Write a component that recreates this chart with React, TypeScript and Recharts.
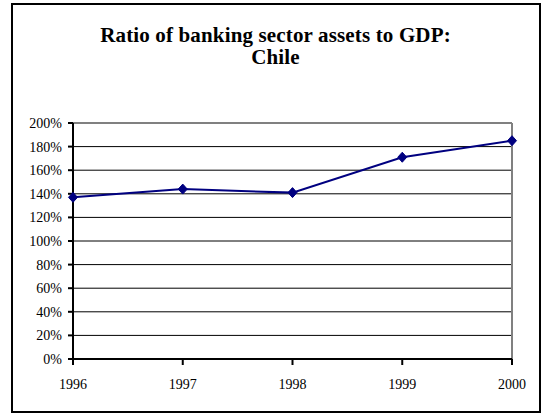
import React from 'react';
import { LineChart, Line, XAxis, YAxis, CartesianGrid, ReferenceLine } from 'recharts';

const years = ['1996', '1997', '1998', '1999', '2000'];
const ratio = [137, 144, 141, 171, 185];
const yTicks = [0, 20, 40, 60, 80, 100, 120, 140, 160, 180, 200];
const titleLines = ['Ratio of banking sector assets to GDP:', 'Chile'];

const data = years.map((y, i) => ({ year: y, ratio: ratio[i] }));

const FONT = '"Liberation Serif", "Times New Roman", serif';

const Diamond = (props: any) => {
  const { cx, cy } = props;
  if (cx == null || cy == null) return null;
  const w = 4.5;
  const h = 5;
  return (
    <polygon
      points={`${cx},${cy - h} ${cx + w},${cy} ${cx},${cy + h} ${cx - w},${cy}`}
      fill="#000080"
      stroke="#000080"
      strokeWidth={1}
    />
  );
};

export default function App() {
  return (
    <div style={{ position: 'absolute', left: 0, top: 0, width: 543, height: 415, background: '#fff' }}>
      <div
        style={{
          position: 'absolute',
          left: 11,
          top: 3,
          width: 526,
          height: 406,
          border: '2px solid #000',
        }}
      />
      <div
        style={{
          position: 'absolute',
          left: 12,
          top: 24,
          width: 527,
          textAlign: 'center',
          fontFamily: FONT,
          fontWeight: 'bold',
          fontSize: 21,
          lineHeight: '22px',
          letterSpacing: 0.15,
          color: '#000',
        }}
      >
        {titleLines.map((t) => (
          <div key={t}>{t}</div>
        ))}
      </div>
      <div style={{ position: 'absolute', left: 0, top: 0 }}>
        <LineChart
          width={543}
          height={415}
          data={data}
          margin={{ top: 123, right: 31, bottom: 26, left: 13 }}
        >
          <CartesianGrid vertical={false} stroke="#000" strokeWidth={1} />
          <XAxis
            dataKey="year"
            height={30}
            stroke="#000"
            strokeWidth={2}
            tickSize={6}
            tickMargin={14}
            tick={{ fill: '#000', fontFamily: FONT, fontSize: 14 }}
            tickLine={{ stroke: '#000', strokeWidth: 2 }}
          />
          <YAxis
            width={60}
            domain={[0, 200]}
            ticks={yTicks}
            interval={0}
            tickFormatter={(v: number) => `${v}%`}
            stroke="#000"
            strokeWidth={2}
            tickSize={5}
            tickMargin={6}
            tick={{ fill: '#000', fontFamily: FONT, fontSize: 14 }}
            tickLine={{ stroke: '#000', strokeWidth: 2 }}
          />
          <ReferenceLine y={200} stroke="#808080" strokeWidth={2} />
          <ReferenceLine x="2000" stroke="#808080" strokeWidth={2} />
          <Line
            type="linear"
            dataKey="ratio"
            stroke="#000080"
            strokeWidth={2}
            dot={<Diamond />}
            activeDot={false}
            isAnimationActive={false}
          />
        </LineChart>
      </div>
    </div>
  );
}
